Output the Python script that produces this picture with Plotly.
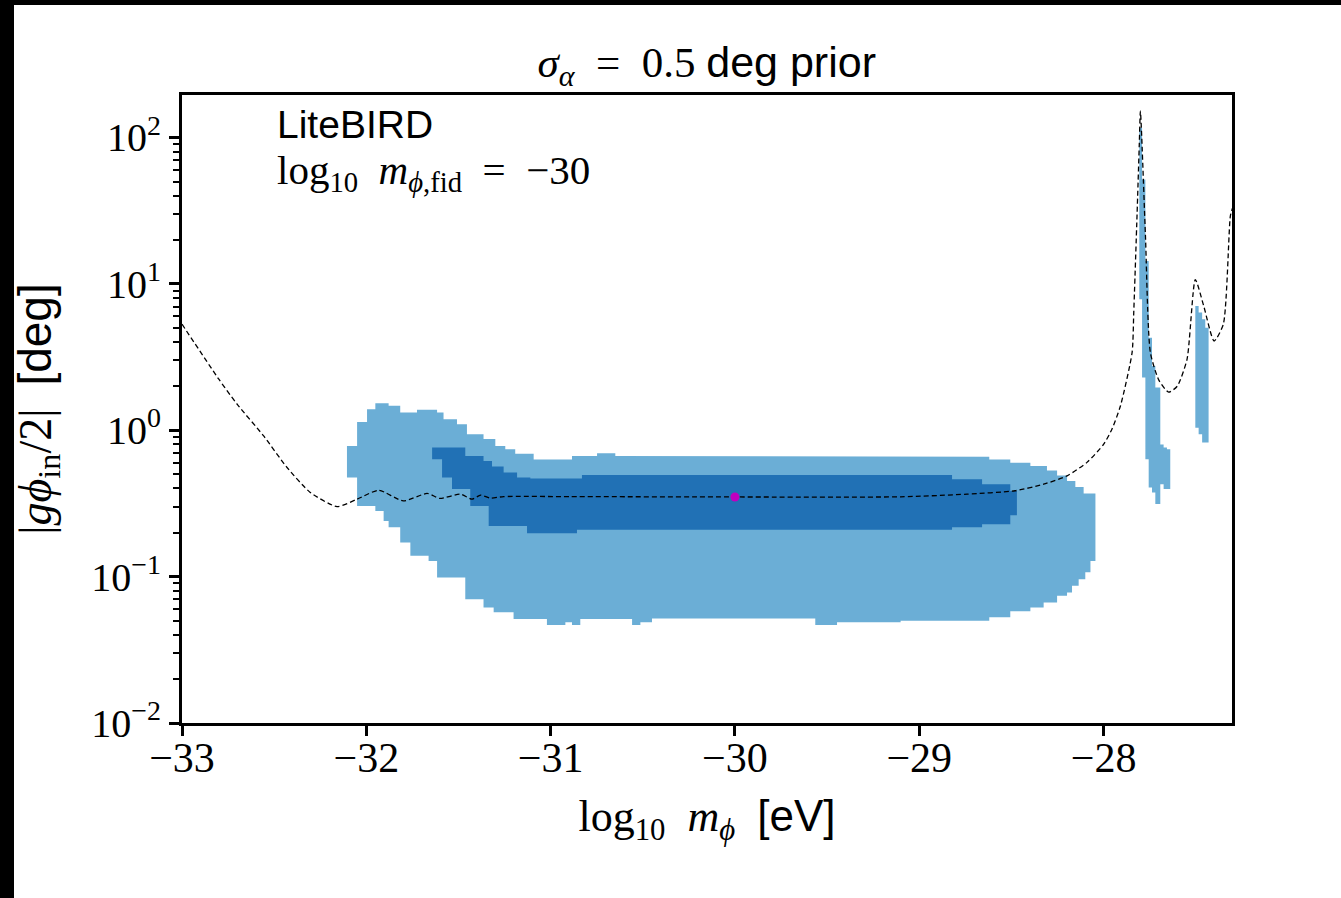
import plotly.graph_objects as go

# ---- axis limits -------------------------------------------------------
X_RANGE = [-33.0, -27.303]
Y_RANGE_LOG = [-2.0, 2.29]

# ---- 95% credible region (main band): column left edges, bounds in deg ----
light_x = [-32.105, -32.050, -31.996, -31.951, -31.906, -31.879, -31.816, -31.761,
           -31.725, -31.662, -31.616, -31.581, -31.508, -31.463, -31.454, -31.364,
           -31.309, -31.300, -31.246, -31.201, -31.192, -31.092, -31.020, -30.920,
           -30.884, -30.839, -30.748, -30.649, -30.558, -30.513, -30.450, -29.564,
           -29.446, -29.101, -28.620, -28.506, -28.397, -28.325, -28.307, -28.252,
           -28.198, -28.171, -28.153, -28.135, -28.108, -28.099, -28.071]
light_lo = [0.475, 0.304, 0.304, 0.281, 0.240, 0.217, 0.171, 0.139,
            0.139, 0.128, 0.0988, 0.0988, 0.0988, 0.070, 0.070, 0.0616,
            0.057, 0.057, 0.057, 0.0513, 0.0513, 0.0513, 0.0467, 0.0487,
            0.0467, 0.0513, 0.0513, 0.0513, 0.0467, 0.0487, 0.0518, 0.0467,
            0.0487, 0.0500, 0.0528, 0.0580, 0.0616, 0.0665, 0.0665, 0.0740,
            0.0780, 0.0865, 0.0865, 0.0960, 0.0960, 0.107, 0.128]
light_hi = [0.78, 1.14, 1.39, 1.53, 1.53, 1.47, 1.32, 1.32,
            1.38, 1.38, 1.32, 1.19, 1.10, 1.10, 0.94, 0.87,
            0.87, 0.78, 0.74, 0.74, 0.69, 0.63, 0.63, 0.63,
            0.667, 0.667, 0.696, 0.667, 0.667, 0.667, 0.667, 0.667,
            0.667, 0.66, 0.63, 0.60, 0.57, 0.57, 0.53, 0.49,
            0.45, 0.45, 0.41, 0.41, 0.37, 0.37, 0.37]
light_x_end = -28.044

# ---- 95% region, narrow islands near the resonances ----
isl1_x = [-27.806, -27.791, -27.773, -27.755, -27.737, -27.719, -27.692, -27.674, -27.656]
isl1_lo = [7.84, 2.29, 0.634, 0.406, 0.376, 0.313, 0.428, 0.396, 0.396]
isl1_hi = [116.0, 51.7, 14.3, 4.29, 2.75, 1.96, 0.80, 0.762, 0.742]
isl1_x_end = -27.638

isl2_x = [-27.502, -27.484, -27.465, -27.448]
isl2_lo = [1.04, 0.94, 0.824, 0.824]
isl2_hi = [7.05, 6.36, 5.72, 5.02]
isl2_x_end = -27.430

# ---- 68% credible region ----
dark_x = [-31.643, -31.589, -31.535, -31.463, -31.436, -31.364, -31.336, -31.318,
          -31.255, -31.182, -31.128, -31.110, -30.857, -30.830, -28.822, -28.659,
          -28.506]
dark_lo = [0.634, 0.475, 0.396, 0.396, 0.304, 0.304, 0.222, 0.222,
           0.222, 0.222, 0.198, 0.198, 0.209, 0.209, 0.217, 0.228,
           0.263]
dark_hi = [0.762, 0.762, 0.762, 0.667, 0.667, 0.617, 0.617, 0.565,
           0.514, 0.475, 0.475, 0.468, 0.468, 0.495, 0.463, 0.428,
           0.385]
dark_x_end = -28.470

# ---- forecast error curve (dashed) ----
curve_x = [-33.0, -32.80, -32.70, -32.557, -32.43, -32.304, -32.159, -32.05,
           -31.933, -31.80, -31.67, -31.60, -31.49, -31.427, -31.38, -31.327,
           -31.255, -30.893, -30.0, -29.10, -28.74, -28.48, -28.325, -28.198,
           -28.09, -28.0, -27.954, -27.908, -27.845, -27.836, -27.818, -27.806,
           -27.80, -27.773, -27.746, -27.70, -27.647, -27.60, -27.547, -27.502,
           -27.457, -27.40, -27.35, -27.312, -27.30]
curve_y = [5.3, 2.23, 1.50, 0.914, 0.556, 0.376, 0.301, 0.338,
           0.389, 0.329, 0.370, 0.342, 0.366, 0.338, 0.360, 0.344,
           0.352, 0.352, 0.350, 0.351, 0.366, 0.386, 0.428, 0.488,
           0.603, 0.80, 1.02, 1.47, 3.4, 6.4, 30.0, 90.0,
           151.0, 22.0, 3.4, 2.2, 1.82, 2.0, 3.05, 10.7,
           7.1, 4.07, 5.3, 29.0, 33.0]

# ---- fiducial point ----
fid_x = [-30.0]
fid_y = [0.35]

# ---- ticks ----
x_ticks = [-33, -32, -31, -30, -29, -28]
x_tick_text = ["\u221233", "\u221232", "\u221231", "\u221230", "\u221229", "\u221228"]
y_ticks = [0.01, 0.1, 1, 10, 100]
y_tick_text = ["10<sup>\u22122</sup>", "10<sup>\u22121</sup>", "10<sup>0</sup>",
               "10<sup>1</sup>", "10<sup>2</sup>"]

LIGHT = "#6baed6"
DARK = "#2171b5"
SERIF = "Liberation Serif"
SANS = "Liberation Sans"
SP = "\u2002"  # en space, used for the wide math spacing around '='


def columns_to_polygon(x_left, x_end, lo, hi):
    """Turn a list of grid columns into a closed step-shaped outline."""
    x_right = list(x_left[1:]) + [x_end]
    px, py = [], []
    for xl, xr, h in zip(x_left, x_right, hi):
        px += [xl, xr]
        py += [h, h]
    for xl, xr, l in reversed(list(zip(x_left, x_right, lo))):
        px += [xr, xl]
        py += [l, l]
    px.append(px[0])
    py.append(py[0])
    return px, py


fig = go.Figure()

for xs, xe, lo, hi in [(light_x, light_x_end, light_lo, light_hi),
                       (isl1_x, isl1_x_end, isl1_lo, isl1_hi),
                       (isl2_x, isl2_x_end, isl2_lo, isl2_hi)]:
    px, py = columns_to_polygon(xs, xe, lo, hi)
    fig.add_trace(go.Scatter(x=px, y=py, mode="lines", fill="toself",
                             fillcolor=LIGHT, line=dict(width=0, color=LIGHT),
                             hoverinfo="skip", showlegend=False))

px, py = columns_to_polygon(dark_x, dark_x_end, dark_lo, dark_hi)
fig.add_trace(go.Scatter(x=px, y=py, mode="lines", fill="toself",
                         fillcolor=DARK, line=dict(width=0, color=DARK),
                         hoverinfo="skip", showlegend=False))

fig.add_trace(go.Scatter(x=curve_x, y=curve_y, mode="lines",
                         line=dict(color="black", width=1.3, dash="5px,3px",
                                   shape="spline", smoothing=0.6),
                         showlegend=False))

fig.add_trace(go.Scatter(x=fid_x, y=fid_y, mode="markers",
                         marker=dict(color="#bf00bf", size=9),
                         showlegend=False))

minor_vals = [k * 10.0 ** e for e in range(-2, 3) for k in range(2, 10)
              if k * 10.0 ** e < 10 ** Y_RANGE_LOG[1]]

fig.update_xaxes(range=X_RANGE, showgrid=False, zeroline=False,
                 showline=True, linecolor="black", linewidth=3, mirror=True,
                 ticks="outside", ticklen=10, tickwidth=3, tickcolor="black",
                 tickvals=x_ticks, ticktext=x_tick_text, ticklabelstandoff=-14,
                 tickfont=dict(family=SERIF, size=42, color="black"),
                 title=dict(text="log<sub>10</sub>" + SP + "<i>m</i><sub><i>\u03d5</i></sub>" + SP
                                 + f"<span style=\"font-family:{SANS}\">[eV]</span>",
                            font=dict(family=SERIF, size=44, color="black"),
                            standoff=20))

fig.update_yaxes(type="log", range=Y_RANGE_LOG, showgrid=False, zeroline=False,
                 showline=True, linecolor="black", linewidth=3, mirror=True,
                 ticks="outside", ticklen=10, tickwidth=3, tickcolor="black",
                 tickvals=y_ticks, ticktext=y_tick_text,
                 tickfont=dict(family=SERIF, size=40, color="black"),
                 minor=dict(ticks="outside", ticklen=6, tickwidth=1.5,
                            tickcolor="black", tickmode="array", tickvals=minor_vals),
                 title=dict(text="|<i>g\u03d5</i><sub>in</sub>/2|" + SP
                                 + f"<span style=\"font-family:{SANS}\">[deg]</span>",
                            font=dict(family=SERIF, size=46, color="black"),
                            standoff=26))

# two-line label inside the axes: experiment name and fiducial mass
fig.add_annotation(
    text=f"<span style=\"font-family:{SANS};font-size:39px\">LiteBIRD</span><br>"
         "<span style=\"font-size:41px\">log<sub>10</sub>" + SP
         + "<i>m</i><sub><i>\u03d5</i>,fid</sub>" + SP + "=" + SP + "\u221230</span>",
    xref="paper", yref="paper", x=0.0886, y=0.911,
    xanchor="left", yanchor="middle", align="left",
    showarrow=False, font=dict(family=SERIF, size=35, color="black"))

# dark frame bands along the top and left edges of the canvas
fig.add_shape(type="rect", xref="paper", yref="paper",
              x0=-182 / 1050, x1=1.2, y0=718 / 628, y1=723 / 628,
              fillcolor="black", line=dict(width=0), layer="above")
fig.add_shape(type="rect", xref="paper", yref="paper",
              x0=-182 / 1050, x1=-168 / 1050, y0=-175 / 628, y1=723 / 628,
              fillcolor="black", line=dict(width=0), layer="above")

fig.update_layout(
    width=1341, height=898,
    margin=dict(l=182, r=109, t=95, b=175),
    paper_bgcolor="white", plot_bgcolor="white",
    title=dict(text="<i>\u03c3</i><sub><i>\u03b1</i></sub>" + SP + "=" + SP + "0.5 "
                    + f"<span style=\"font-family:{SANS}\">deg prior</span>",
               font=dict(family=SERIF, size=43, color="black"),
               x=0.527, xanchor="center", y=1 - 62 / 898, yanchor="middle"),
    showlegend=False,
)

fig.write_html("out.html")
